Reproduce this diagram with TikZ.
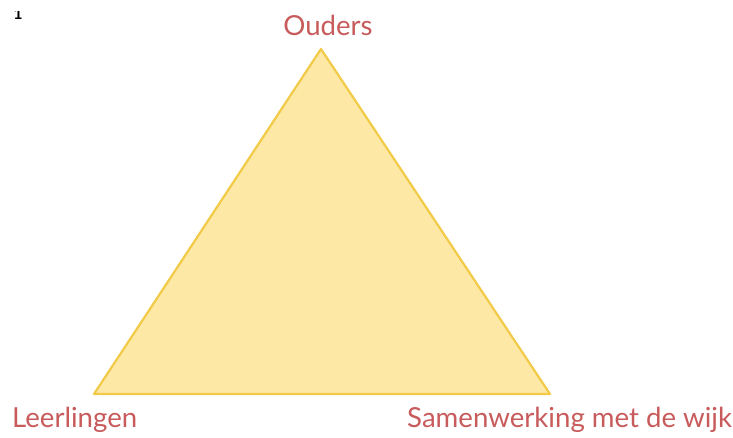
\documentclass[tikz,border=0pt]{standalone}
\usepackage{fontspec}
\setmainfont{Lato}
\definecolor{trifill}{HTML}{FDE8A6}
\definecolor{tristroke}{HTML}{F1CB48}
\definecolor{labelred}{HTML}{C85B5B}
\begin{document}
\begin{tikzpicture}[x=1pt,y=-1pt,
  lbl/.style={text=labelred,font=\fontsize{27.6}{32}\selectfont,inner sep=0pt,anchor=base}]
\useasboundingbox[fill=white] (0,0) rectangle (733,437);
\coordinate (top) at (321,49);
\coordinate (bl) at (94,394);
\coordinate (br) at (550,394);
\filldraw[fill=trifill,draw=tristroke,line width=2.2pt,line join=round] (top) -- (bl) -- (br) -- cycle;
\node[lbl] (ouders) at (328,35) {Ouders};
\node[lbl,anchor=base west] (leer) at (12,427) {Leerlingen};
\node[lbl,anchor=base west] (wijk) at (407,427) {Samenwerking met de wijk};
\begin{scope}
\clip (5,11) rectangle (35,20);
\node[inner sep=0pt,anchor=base,font=\fontsize{16}{18}\selectfont\rmfamily] (one) at (18,19) {\textbf{1}};
\end{scope}
\end{tikzpicture}
\end{document}
